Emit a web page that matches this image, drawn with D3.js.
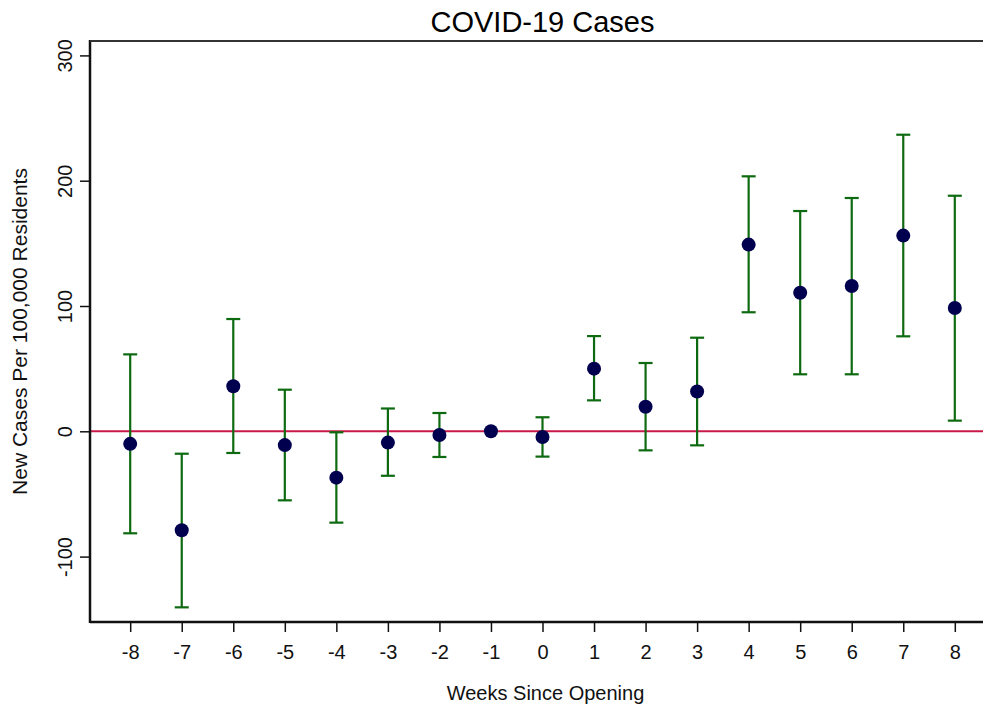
<!DOCTYPE html>
<html>
<head>
<meta charset="utf-8">
<script src="https://cdn.jsdelivr.net/npm/d3@7"></script>
<style>
  html, body { margin: 0; padding: 0; background: #fff; }
  svg { display: block; font-family: "Liberation Sans", Arial, sans-serif; }
</style>
</head>
<body>
<svg id="chart" width="983" height="711"></svg>
<script>
// Event-study estimates: weeks relative to opening
const weeks = [-8, -7, -6, -5, -4, -3, -2, -1, 0, 1, 2, 3, 4, 5, 6, 7, 8];
const estimate = [-10, -79, 36, -11, -37, -9, -3, 0, -4.5, 50, 19.6, 31.8, 149, 110.6, 116, 156.2, 98.4];
const ciLower = [-81.4, -140.5, -17.3, -55.1, -72.9, -35.5, -20.5, 0, -20.2, 24.7, -15.2, -11.2, 95, 45.5, 45.5, 75.8, 8.5];
const ciUpper = [61.4, -17.9, 89.6, 33.2, -0.8, 18.2, 14.6, 0, 11.2, 76, 54.5, 74.7, 203.5, 175.8, 186.2, 236.7, 188];
const yTicks = [-100, 0, 100, 200, 300];

const svg = d3.select("#chart");
const margin = { left: 90, right: 995, top: 41, bottom: 622 };

const x = d3.scaleLinear().domain([-8.78, 8.78]).range([margin.left, margin.right]);
const y = d3.scaleLinear().domain([-152.2, 311.5]).range([margin.bottom, margin.top]);

const rows = weeks.map((w, i) => ({ w, est: estimate[i], lo: ciLower[i], hi: ciUpper[i] }));
const plain = d => String(d); // hyphen-minus labels

// Zero reference line
svg.append("line")
  .attr("x1", margin.left).attr("x2", margin.right)
  .attr("y1", y(0)).attr("y2", y(0))
  .attr("stroke", "#c8184a").attr("stroke-width", 2);

// Confidence intervals
const green = "#0e6a10";
const capHalf = 7;
const ci = svg.append("g").attr("stroke", green).attr("stroke-width", 2.2).attr("fill", "none");
rows.filter(d => d.hi !== d.lo).forEach(d => {
  ci.append("line").attr("x1", x(d.w)).attr("x2", x(d.w)).attr("y1", y(d.lo)).attr("y2", y(d.hi));
  ci.append("line").attr("x1", x(d.w) - capHalf).attr("x2", x(d.w) + capHalf).attr("y1", y(d.lo)).attr("y2", y(d.lo));
  ci.append("line").attr("x1", x(d.w) - capHalf).attr("x2", x(d.w) + capHalf).attr("y1", y(d.hi)).attr("y2", y(d.hi));
});

// Point estimates
svg.append("g").selectAll("circle").data(rows).join("circle")
  .attr("cx", d => x(d.w)).attr("cy", d => y(d.est)).attr("r", 7)
  .attr("fill", "#00004f");

// Axes
const xAxis = svg.append("g")
  .attr("transform", `translate(0,${margin.bottom})`)
  .call(d3.axisBottom(x).tickValues(weeks).tickFormat(plain).tickSize(10).tickPadding(13).tickSizeOuter(0));
const yAxis = svg.append("g")
  .attr("transform", `translate(${margin.left},0)`)
  .call(d3.axisLeft(y).tickValues(yTicks).tickFormat(plain).tickSize(10).tickSizeOuter(0));

[xAxis, yAxis].forEach(g => {
  g.select(".domain").attr("stroke", "#111").attr("stroke-width", 2.5);
  g.selectAll(".tick line").attr("stroke", "#111").attr("stroke-width", 1.5);
  g.selectAll(".tick text").attr("fill", "#111").style("font-size", "20px")
    .style("font-family", "'Liberation Sans', Arial, sans-serif");
});
xAxis.select(".domain").attr("d", `M${margin.left},0H${margin.right}`);
yAxis.select(".domain").attr("d", `M0,${margin.bottom + 1}V${margin.top - 1}`);

// Vertical y tick labels
yAxis.selectAll(".tick text")
  .attr("x", null).attr("dy", null)
  .attr("text-anchor", "middle")
  .attr("transform", "translate(-18,0) rotate(-90)");

// Top frame line
svg.append("line")
  .attr("x1", margin.left).attr("x2", 983)
  .attr("y1", margin.top).attr("y2", margin.top)
  .attr("stroke", "#333").attr("stroke-width", 2);

// Titles
svg.append("text")
  .attr("x", (margin.left + margin.right) / 2).attr("y", 32)
  .attr("text-anchor", "middle").style("font-size", "29px").attr("fill", "#000")
  .text("COVID-19 Cases");

svg.append("text")
  .attr("x", (margin.left + margin.right) / 2 + 3).attr("y", 700)
  .attr("text-anchor", "middle").style("font-size", "20px").attr("fill", "#111")
  .text("Weeks Since Opening");

svg.append("text")
  .attr("transform", `translate(27,${(margin.top + margin.bottom) / 2}) rotate(-90)`)
  .attr("text-anchor", "middle").style("font-size", "21px").attr("fill", "#111")
  .text("New Cases Per 100,000 Residents");
</script>
</body>
</html>
